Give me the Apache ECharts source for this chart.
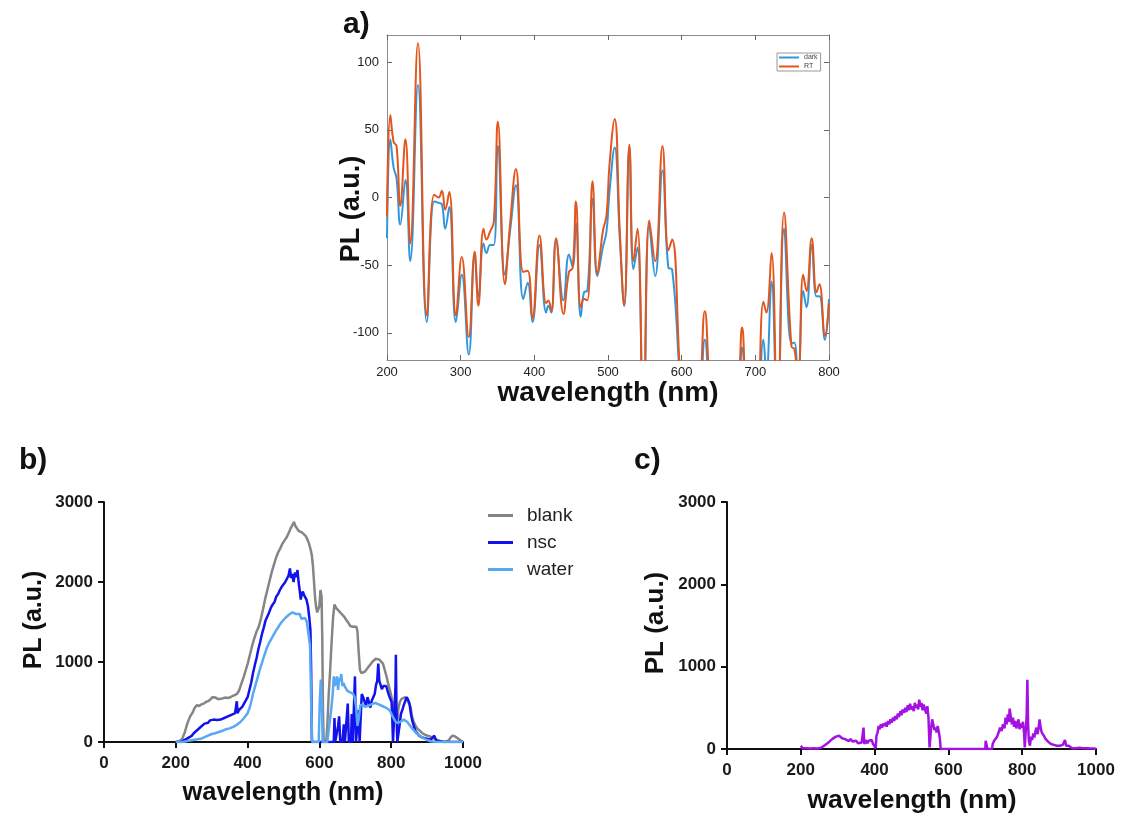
<!DOCTYPE html>
<html><head><meta charset="utf-8">
<script src="https://cdn.jsdelivr.net/npm/echarts@6/dist/echarts.min.js"></script>
<style>html,body{margin:0;padding:0;background:#fff}#c{width:1125px;height:818px}</style>
</head><body><div id="c"></div>
<script>
// ---- Panel a: wavelength (nm), RT and dark PL ----
const aWave = [200,204.5,209,213,218,225,231.5,242,254,264,270,274.5,279,284.5,293.5,301.5,311,319,324,331,335,340,345,350.5,360,367,375,385,391,397.5,407,416,419,423,429.5,439.5,447,452,456.5,463,467.5,472,479,485.5,493,498,502,509,516,522,529,534.5,540,548,556,564,574,582,587,600,612,624,631.5,640,660,677,682,688,700,711,715,722,730,739,749,753,758,765,769.5,776.5,783,787,794.5,800];
const aRT   = [-14,61,41,38,-6,43,-34,114,-87,2,0,5,-9,4,-87,-44,-103,-40,-80,-23,-31,-25,-18,56,-64,-20,21,-55,-54,-89,-28,-78,-76,-84,-30,-86,-55,-52,-3,-81,-75,-76,12,-56,-25,-13,24,58,-25,-80,39,-47,-23,-170,-17,-47,38,-39,-31,-150,-200,-150,-84,-150,-220,-140,-96,-150,-200,-77,-85,-41,-170,-11,-110,-112,-135,-57,-69,-30,-70,-64,-102,-78];
const aDark = [-30,43,22,14,-20,13,-47,83,-92,-3,-4,-5,-23,-7,-92,-57,-116,-43,-73,-34,-41,-35,-35,38,-57,-25,9,-75,-63,-92,-35,-85,-80,-85,-32,-76,-42,-51,-19,-88,-70,-69,-1,-58,-37,-25,4,37,-30,-80,37,-53,-37,-170,-20,-58,20,-52,-53,-150,-200,-160,-105,-160,-220,-150,-111,-150,-200,-105,-130,-62,-170,-23,-108,-107,-140,-69,-81,-35,-73,-73,-105,-75];
const aYTicks = [-100,-50,0,50,100];

// ---- Panel b: blank, nsc, water ----
const bBlank = [[200,0],[210,10],[218,40],[225,120],[232,230],[240,320],[247,370],[253,430],[259,460],[265,450],[271,470],[278,480],[284,500],[290,510],[296,530],[302,560],[306,540],[311,555],[318,535],[324,540],[330,545],[337,555],[344,550],[352,560],[358,575],[364,585],[370,600],[376,640],[382,720],[389,810],[395,900],[401,990],[407,1100],[413,1210],[419,1300],[425,1380],[431,1440],[437,1540],[443,1660],[449,1790],[455,1900],[461,2010],[467,2120],[473,2210],[479,2300],[485,2370],[491,2420],[497,2480],[503,2520],[509,2560],[515,2620],[521,2680],[525,2700],[529,2750],[533,2700],[537,2690],[542,2640],[547,2630],[551,2620],[556,2600],[561,2580],[566,2540],[571,2480],[576,2400],[579,2330],[582,2200],[585,2000],[588,1800],[591,1680],[594,1620],[597,1600],[600,1700],[603,1900],[606,1820],[608,1300],[610,400],[612,0],[619,0],[622,200],[626,600],[630,900],[634,1250],[638,1550],[642,1720],[646,1680],[650,1700],[654,1640],[658,1660],[662,1600],[666,1580],[670,1560],[674,1530],[678,1510],[682,1480],[686,1450],[690,1430],[694,1440],[698,1460],[703,1440],[706,1380],[709,1150],[713,900],[717,860],[722,850],[727,880],[732,900],[737,940],[742,970],[747,1000],[752,1020],[757,1040],[762,1050],[767,1030],[772,1010],[777,980],[782,900],[787,820],[792,720],[797,640],[801,560],[806,460],[810,380],[814,300],[817,250],[820,420],[824,500],[829,540],[834,560],[839,560],[844,530],[849,520],[854,440],[858,320],[862,260],[868,200],[874,160],[880,140],[887,110],[894,90],[901,80],[908,70],[915,50],[922,40],[930,20],[940,10],[950,0],[960,20],[966,60],[972,80],[978,70],[984,50],[990,30],[996,10],[1000,0]];
const bNsc = [[200,0],[215,0],[222,20],[230,40],[238,60],[245,80],[250,110],[255,120],[260,150],[265,160],[270,190],[275,200],[280,230],[285,250],[290,240],[295,270],[300,260],[305,280],[310,265],[315,275],[320,260],[325,280],[330,270],[335,300],[340,290],[345,320],[350,310],[355,340],[360,330],[365,360],[368,380],[370,510],[372,360],[376,400],[380,420],[385,440],[390,480],[395,520],[400,560],[405,650],[410,740],[415,860],[420,960],[425,1050],[430,1160],[435,1250],[440,1350],[445,1430],[450,1520],[455,1570],[460,1620],[465,1680],[470,1720],[475,1750],[480,1820],[485,1850],[490,1900],[495,1940],[500,1960],[505,2000],[510,2020],[514,2080],[518,2170],[521,2050],[524,2100],[528,2000],[532,2120],[536,2060],[539,2150],[542,2000],[545,1900],[548,1780],[551,1850],[554,1880],[557,1840],[560,1820],[564,1780],[568,1700],[572,1550],[575,1400],[577,900],[579,0],[640,0],[642,300],[644,0],[649,0],[652,200],[655,320],[658,0],[664,0],[668,220],[671,0],[676,0],[679,480],[682,0],[688,0],[690,350],[693,0],[697,0],[699,820],[702,0],[706,0],[709,400],[712,0],[716,0],[718,600],[722,560],[726,500],[730,450],[734,560],[738,500],[742,430],[746,520],[750,560],[754,600],[758,720],[761,760],[764,980],[767,760],[770,720],[774,660],[778,700],[782,680],[786,700],[790,640],[794,580],[798,560],[801,500],[803,300],[805,0],[810,0],[812,700],[813,1090],[815,300],[817,0],[820,0],[823,200],[827,350],[831,400],[835,460],[839,480],[843,560],[847,530],[851,480],[855,350],[859,260],[863,200],[867,140],[872,110],[878,80],[885,60],[892,50],[900,40],[910,30],[920,80],[925,20],[935,10],[945,0],[1000,0]];
const bWater = [[200,0],[220,0],[240,20],[260,35],[270,40],[280,60],[290,80],[300,100],[310,110],[320,125],[330,140],[340,160],[350,170],[360,190],[370,215],[380,250],[390,300],[400,360],[405,420],[410,500],[415,600],[420,680],[425,760],[430,840],[435,920],[440,990],[445,1060],[450,1130],[455,1190],[460,1240],[465,1280],[470,1320],[475,1360],[480,1400],[485,1430],[490,1470],[495,1500],[500,1520],[505,1550],[510,1570],[515,1590],[520,1610],[525,1620],[530,1640],[535,1600],[540,1580],[545,1600],[550,1540],[555,1520],[560,1550],[565,1500],[570,1520],[574,1200],[577,500],[580,0],[598,0],[601,500],[604,780],[607,500],[609,0],[622,0],[626,150],[630,300],[634,450],[637,600],[640,820],[643,700],[646,760],[649,820],[652,650],[655,800],[658,760],[661,850],[664,700],[667,740],[670,700],[674,680],[678,640],[682,660],[686,620],[690,620],[694,600],[698,560],[702,450],[706,200],[710,300],[714,460],[718,480],[722,470],[726,440],[730,430],[735,450],[740,460],[745,470],[750,480],[755,490],[760,480],[765,470],[770,460],[775,450],[780,440],[785,430],[790,420],[795,400],[800,360],[805,310],[810,270],[815,240],[820,230],[825,250],[830,270],[835,280],[840,270],[845,250],[850,220],[855,190],[860,160],[870,110],[880,80],[890,50],[900,25],[910,10],[925,0],[1000,0]];

// ---- Panel c ----
const cPL = [[200,40],[205,10],[210,30],[215,10],[220,20],[225,5],[230,25],[235,10],[240,20],[245,5],[250,25],[255,15],[260,30],[265,45],[270,60],[275,80],[280,100],[285,120],[290,140],[295,150],[300,170],[304,160],[308,150],[312,130],[316,140],[320,120],[325,110],[330,95],[335,120],[340,90],[345,80],[350,100],[355,70],[360,90],[365,80],[368,70],[370,260],[372,60],[376,110],[380,70],[384,100],[388,80],[392,110],[396,60],[400,40],[403,10],[405,160],[408,200],[411,280],[414,240],[417,300],[420,260],[423,310],[426,280],[430,320],[433,270],[436,340],[440,300],[443,360],[446,320],[450,380],[453,340],[456,400],[460,360],[463,430],[466,390],[470,460],[473,410],[476,480],[480,440],[483,500],[486,450],[490,530],[493,470],[496,550],[500,480],[503,520],[506,460],[509,560],[512,500],[515,540],[518,480],[521,600],[524,510],[527,560],[530,470],[533,540],[536,520],[540,430],[543,520],[546,380],[549,20],[551,20],[553,250],[556,360],[559,300],[562,230],[565,260],[568,200],[571,280],[574,210],[577,120],[579,0],[700,0],[701,100],[704,80],[706,0],[718,0],[720,60],[724,100],[728,80],[732,150],[736,200],[740,260],[744,220],[748,300],[752,250],[755,380],[758,300],[761,420],[764,330],[766,490],[769,400],[772,300],[775,380],[778,270],[781,340],[784,250],[787,300],[790,360],[793,240],[796,310],[799,260],[802,330],[805,200],[807,20],[810,20],[812,400],[814,840],[816,300],[818,100],[821,40],[824,150],[827,110],[830,190],[833,140],[836,220],[839,260],[842,180],[845,280],[847,360],[850,260],[853,200],[856,180],[859,160],[862,130],[866,110],[870,90],[874,80],[878,60],[882,70],[886,50],[890,60],[894,40],[898,50],[902,40],[906,30],[910,50],[913,80],[916,110],[919,40],[922,20],[926,40],[930,20],[935,10],[940,20],[945,10],[950,5],[955,15],[960,30],[965,10],[970,25],[975,10],[980,20],[985,5],[990,15],[995,5],[1000,0]];

const FF = 'Liberation Sans';
const pairs = (xs, ys) => xs.map((x, i) => [x, ys[i]]);
const plain = v => String(v);

const chart = echarts.init(document.getElementById('c'), null, {renderer: 'canvas'});

const boxAxisLine = {show: true, onZero: false, lineStyle: {color: '#8c8c8c', width: 1}};
const inTick = {show: true, inside: true, length: 5, lineStyle: {color: '#666', width: 1}};
const gpAxisLine = {show: true, onZero: false, lineStyle: {color: '#111', width: 2}};
const gpTick = {show: true, inside: false, length: 6, lineStyle: {color: '#111', width: 2}};
const gpLabel = {fontFamily: FF, fontWeight: 'bold', fontSize: 17, color: '#1a1a1a', formatter: plain};

const option = {
  animation: false,
  backgroundColor: '#fff',
  grid: [
    {left: 387, top: 35, width: 442, height: 325},
    {left: 104, top: 502, width: 359, height: 240},
    {left: 727, top: 502, width: 369, height: 247}
  ],
  xAxis: [
    {type: 'value', gridIndex: 0, position: 'bottom', min: 200, max: 800, interval: 100,
     axisLine: boxAxisLine, axisTick: inTick, splitLine: {show: false},
     axisLabel: {margin: 6, fontFamily: FF, fontSize: 13, color: '#222', formatter: plain}},
    {type: 'value', gridIndex: 0, position: 'top', min: 200, max: 800, interval: 100,
     axisLine: boxAxisLine, axisTick: inTick, splitLine: {show: false}, axisLabel: {show: false}},
    {type: 'value', gridIndex: 1, min: 0, max: 1000, interval: 200,
     axisLine: gpAxisLine, axisTick: gpTick, splitLine: {show: false},
     axisLabel: Object.assign({margin: 13}, gpLabel)},
    {type: 'value', gridIndex: 2, min: 0, max: 1000, interval: 200,
     axisLine: gpAxisLine, axisTick: gpTick, splitLine: {show: false},
     axisLabel: Object.assign({margin: 13}, gpLabel)}
  ],
  yAxis: [
    {type: 'value', gridIndex: 0, position: 'left', min: -120, max: 120,
     axisLine: boxAxisLine, axisTick: Object.assign({customValues: aYTicks}, inTick), splitLine: {show: false},
     axisLabel: {customValues: aYTicks, margin: 8, fontFamily: FF, fontSize: 13, color: '#222', formatter: plain}},
    {type: 'value', gridIndex: 0, position: 'right', min: -120, max: 120,
     axisLine: boxAxisLine, axisTick: Object.assign({customValues: aYTicks}, inTick), splitLine: {show: false},
     axisLabel: {show: false}},
    {type: 'value', gridIndex: 1, min: 0, max: 3000, interval: 1000,
     axisLine: gpAxisLine, axisTick: gpTick, splitLine: {show: false},
     axisLabel: Object.assign({margin: 11}, gpLabel)},
    {type: 'value', gridIndex: 2, min: 0, max: 3000, interval: 1000,
     axisLine: gpAxisLine, axisTick: gpTick, splitLine: {show: false},
     axisLabel: Object.assign({margin: 11}, gpLabel)}
  ],
  legend: [
    {data: ['dark', 'RT'], orient: 'vertical', left: 777, top: 53, icon: 'rect',
     itemWidth: 20, itemHeight: 2, itemGap: 2, padding: [1, 3, 1, 2],
     borderColor: '#999', borderWidth: 1, borderRadius: 0,
     textStyle: {fontFamily: FF, fontSize: 7, color: '#444'}},
    {data: ['blank', 'nsc', 'water'], orient: 'vertical', left: 488, top: 506, icon: 'rect',
     itemWidth: 25, itemHeight: 3, itemGap: 8, padding: 0,
     textStyle: {fontFamily: FF, fontSize: 19, color: '#222', padding: [0, 0, 0, 9]}}
  ],
  series: [
    {name: 'dark', type: 'line', xAxisIndex: 0, yAxisIndex: 0, data: pairs(aWave, aDark),
     smooth: 0.45, symbol: 'none', lineStyle: {width: 2, color: '#3396db'}, itemStyle: {color: '#3396db'}},
    {name: 'RT', type: 'line', xAxisIndex: 0, yAxisIndex: 0, data: pairs(aWave, aRT),
     smooth: 0.45, symbol: 'none', lineStyle: {width: 2, color: '#e2561e'}, itemStyle: {color: '#e2561e'}},
    {name: 'blank', type: 'line', xAxisIndex: 2, yAxisIndex: 2, data: bBlank,
     symbol: 'none', lineStyle: {width: 2.5, color: '#858585'}, itemStyle: {color: '#858585'}},
    {name: 'nsc', type: 'line', xAxisIndex: 2, yAxisIndex: 2, data: bNsc,
     symbol: 'none', lineStyle: {width: 2.5, color: '#1212ec'}, itemStyle: {color: '#1212ec'}},
    {name: 'water', type: 'line', xAxisIndex: 2, yAxisIndex: 2, data: bWater,
     symbol: 'none', lineStyle: {width: 2.5, color: '#58a8f4'}, itemStyle: {color: '#58a8f4'}},
    {name: 'c', type: 'line', xAxisIndex: 3, yAxisIndex: 3, data: cPL,
     symbol: 'none', lineStyle: {width: 2.5, color: '#a412e2'}, itemStyle: {color: '#a412e2'}}
  ],
  graphic: [
    {type: 'text', left: 343, top: 10, style: {text: 'a)', fontFamily: FF, fontWeight: 'bold', fontSize: 30, fill: '#111'}},
    {type: 'text', left: 19, top: 446, style: {text: 'b)', fontFamily: FF, fontWeight: 'bold', fontSize: 30, fill: '#111'}},
    {type: 'text', left: 634, top: 446, style: {text: 'c)', fontFamily: FF, fontWeight: 'bold', fontSize: 30, fill: '#111'}},
    {type: 'text', x: 608, y: 393, style: {text: 'wavelength (nm)', fontFamily: FF, fontWeight: 'bold', fontSize: 28, fill: '#111', align: 'center', verticalAlign: 'middle'}},
    {type: 'text', x: 352, y: 209, rotation: Math.PI / 2, style: {text: 'PL (a.u.)', fontFamily: FF, fontWeight: 'bold', fontSize: 27, fill: '#111', align: 'center', verticalAlign: 'middle'}},
    {type: 'text', x: 283, y: 793, style: {text: 'wavelength (nm)', fontFamily: FF, fontWeight: 'bold', fontSize: 25.5, fill: '#111', align: 'center', verticalAlign: 'middle'}},
    {type: 'text', x: 34, y: 620, rotation: Math.PI / 2, style: {text: 'PL (a.u.)', fontFamily: FF, fontWeight: 'bold', fontSize: 25, fill: '#111', align: 'center', verticalAlign: 'middle'}},
    {type: 'text', x: 912, y: 801, style: {text: 'wavelength (nm)', fontFamily: FF, fontWeight: 'bold', fontSize: 26.5, fill: '#111', align: 'center', verticalAlign: 'middle'}},
    {type: 'text', x: 656, y: 623, rotation: Math.PI / 2, style: {text: 'PL (a.u.)', fontFamily: FF, fontWeight: 'bold', fontSize: 26, fill: '#111', align: 'center', verticalAlign: 'middle'}}
  ]
};
chart.setOption(option);
</script>
</body></html>
